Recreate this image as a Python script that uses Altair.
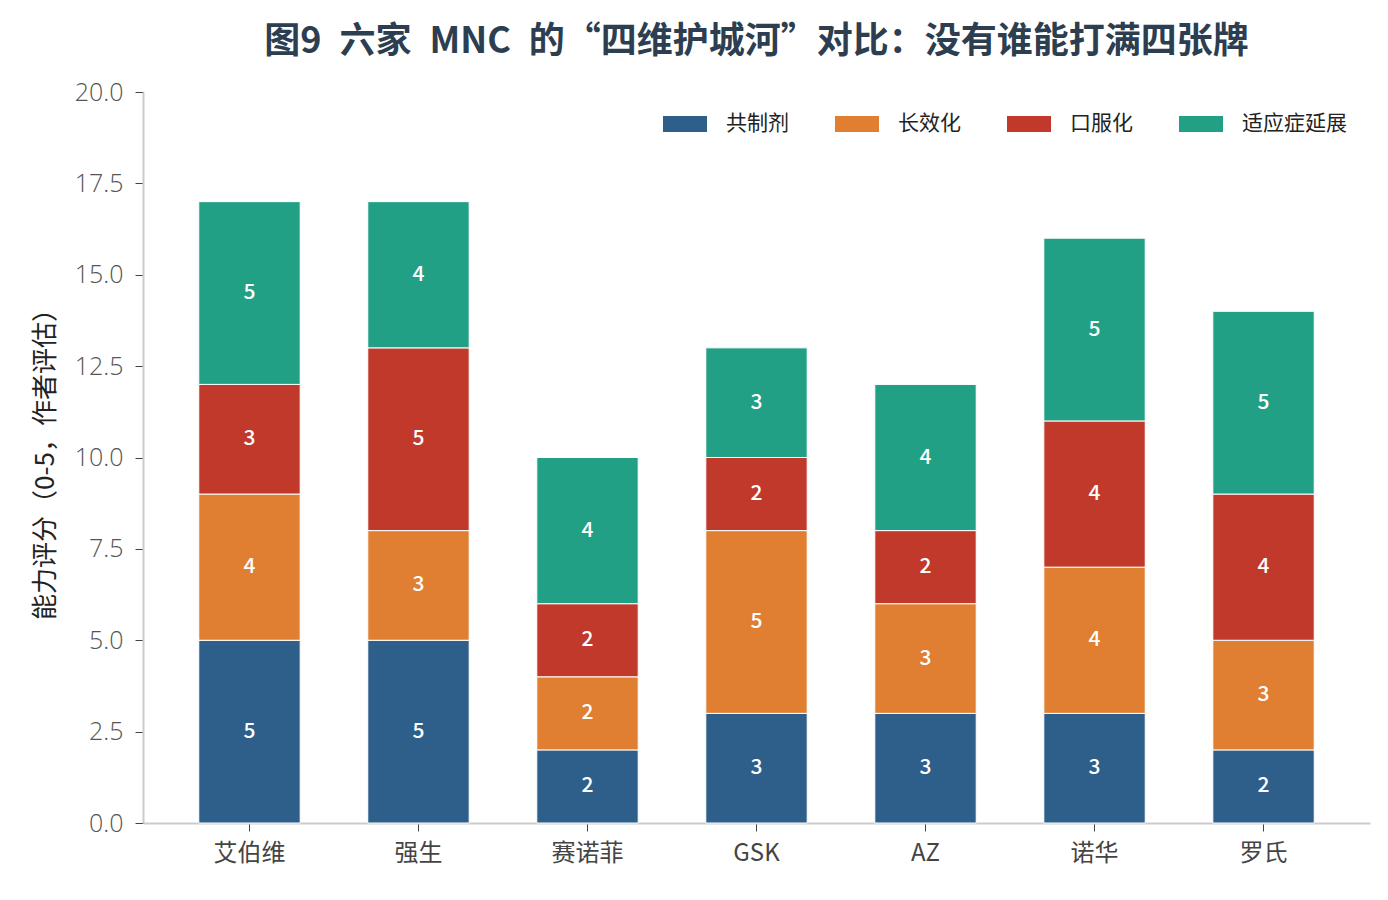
import altair as alt
import pandas as pd

companies = ["艾伯维", "强生", "赛诺菲", "GSK", "AZ", "诺华", "罗氏"]
dims = ["共制剂", "长效化", "口服化", "适应症延展"]
colors = ["#2e5f8a", "#e07f32", "#c0392b", "#22a085"]
co_formulation = [5, 5, 2, 3, 3, 3, 2]
long_acting = [4, 3, 2, 5, 3, 4, 3]
oral = [3, 5, 2, 2, 2, 4, 4]
indication = [5, 4, 4, 3, 4, 5, 5]
y_ticks = [0, 2.5, 5, 7.5, 10, 12.5, 15, 17.5, 20]

series = [co_formulation, long_acting, oral, indication]
rows = []
for ci, c in enumerate(companies):
    base = 0
    for di, d in enumerate(dims):
        v = series[di][ci]
        rows.append({"company": c, "dim": d, "order": di, "value": v,
                     "mid": base + v / 2})
        base += v
df = pd.DataFrame(rows)

FONT = "Noto Sans CJK SC"
TICKFONT = "Open Sans"

x = alt.X("company:N", sort=companies, title=None,
          scale=alt.Scale(paddingInner=0.4, paddingOuter=0.33),
          axis=alt.Axis(labelAngle=0, labelFontSize=24, labelColor="#444",
                        labelPadding=10, tickSize=8, tickColor="#444",
                        domainColor="#cccccc", domainWidth=2, labelFont=FONT))

bars = alt.Chart(df).mark_bar(stroke="white", strokeWidth=1).encode(
    x=x,
    y=alt.Y("sum(value):Q", title="能力评分（0-5，作者评估）",
            scale=alt.Scale(domain=[0, 20], nice=False),
            axis=alt.Axis(values=y_ticks, format=".1f", grid=False,
                          labelFontSize=25, labelColor="#555", labelFont=TICKFONT,
                          labelFontWeight=300,
                          tickSize=8, tickColor="#444", domainColor="#cccccc",
                          domainWidth=2, titleFontSize=26, titleColor="#222",
                          titleFont=FONT, titleFontWeight="normal",
                          titlePadding=16, labelPadding=12)),
    color=alt.Color("dim:N", sort=dims,
                    scale=alt.Scale(domain=dims, range=colors),
                    legend=alt.Legend(title=None, orient="none",
                                      legendX=520, legendY=10,
                                      direction="horizontal", columns=4,
                                      labelFontSize=21, labelColor="#222",
                                      labelFont=FONT,
                                      symbolType="M-1,-0.36L1,-0.36L1,0.36L-1,0.36Z",
                                      symbolSize=1936, symbolStrokeWidth=0,
                                      labelOffset=19, columnPadding=46,
                                      labelLimit=300)),
    order=alt.Order("order:Q"),
)

labels = alt.Chart(df).mark_text(color="white", fontSize=21, fontWeight=500,
                                 font=FONT, baseline="middle").encode(
    x=alt.X("company:N", sort=companies),
    y=alt.Y("mid:Q"),
    text=alt.Text("value:Q"),
)

chart = alt.layer(bars, labels).properties(
    width=1227, height=731,
    padding={"left": 24, "top": 16, "right": 5, "bottom": 5},
    title=alt.TitleParams("图9\u2002六家\u2002MNC\u2002的“四维护城河”对比：没有谁能打满四张牌",
                          fontSize=36, fontWeight="bold", color="#2c3e50",
                          font=FONT, offset=19),
).configure_view(strokeWidth=0, stroke="transparent")

chart.save("out.html", embed_options={"renderer": "svg", "actions": False})
